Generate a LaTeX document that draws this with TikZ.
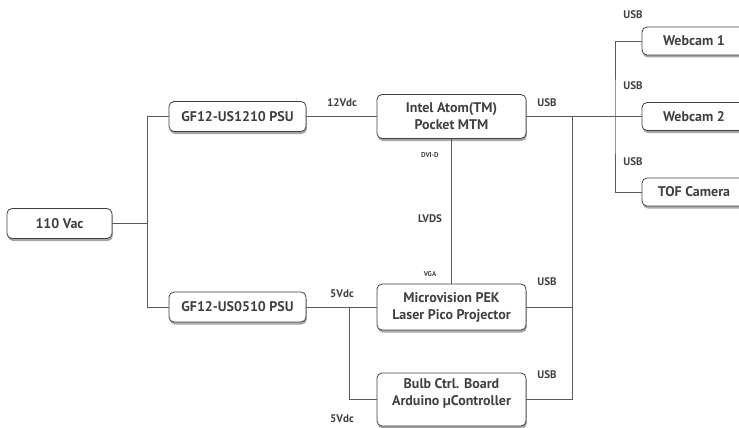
\documentclass[tikz,border=0pt]{standalone}
\usepackage{fontspec}
\setmainfont{PT Sans}
\usepackage{tikz}
\usetikzlibrary{shadows}
\definecolor{ink}{HTML}{404040}
\definecolor{wire}{HTML}{5A5A5A}

\begin{document}
\begin{tikzpicture}[
  x=1pt, y=-1pt,
  box/.style={draw=ink, line width=0.8pt, rounded corners=5pt, fill=white, align=center, text=ink,
    font=\fontsize{14}{17}\selectfont\bfseries, inner sep=0pt, minimum height=#1,
    drop shadow={shadow xshift=0.8pt, shadow yshift=-2.5pt, opacity=0.7, fill=gray}},
  box/.default=30pt,
  wire/.style={draw=wire, line width=0.6pt},
  lab/.style={text=ink, font=\fontsize{11}{12}\selectfont\bfseries},
  tinylab/.style={text=ink, font=\fontsize{7}{8}\selectfont\bfseries}
]
\useasboundingbox (0,0) rectangle (739,428);
% power
\node[box, minimum width=105pt] (vac) at (59.5,223.5) {110 Vac};
\node[box, minimum width=137pt] (psu1) at (237.5,116.5) {GF12-US1210 PSU};
\node[box, minimum width=137pt] (psu2) at (237.5,307) {GF12-US0510 PSU};
% main units
\node[box=44pt, minimum width=149pt] (intel) at (451.5,116.5) {Intel Atom(TM)\\Pocket MTM};
\node[box=46pt, minimum width=149pt] (micro) at (451.5,307) {Microvision PEK\\Laser Pico Projector};
\node[box=53pt, minimum width=149pt] (bulb) at (451.5,399.5) {};
\node[text=ink, align=center, font=\fontsize{14}{17}\selectfont\bfseries] (bulbtxt) at (451.5,393) {Bulb Ctrl. Board\\Arduino µController};
% cameras
\node[box=28pt, minimum width=104pt] (cam1) at (694,41) {Webcam 1};
\node[box=28pt, minimum width=104pt] (cam2) at (694,116.5) {Webcam 2};
\node[box=28pt, minimum width=104pt] (tof) at (694,192) {TOF Camera};
% junctions
\coordinate (split) at (147.5,223.5);
\coordinate (tap5) at (349,307);
\coordinate (hub) at (572,116.5);
\coordinate (camhub) at (615,116.5);
% wiring
\draw[wire] (vac.east) -- (split);
\draw[wire] (psu1.west) -| (split) |- (psu2.west);
\draw[wire] (psu1.east) -- (intel.west);
\draw[wire] (psu2.east) -- (micro.west);
\draw[wire] (tap5) |- (bulb.west);
\draw[wire] (intel.south) -- (micro.north);
\draw[wire] (intel.east) -- (cam2.west);
\draw[wire] (hub) |- (bulb.east);
\draw[wire] (micro.east) -- (micro.east -| hub);
\draw[wire] (cam1.west) -| (camhub) |- (tof.west);
% labels
\node[lab] (l12v) at (342,103) {12Vdc};
\node[lab] (l5va) at (342,294) {5Vdc};
\node[lab] (l5vb) at (342,419) {5Vdc};
\node[lab] (usbi) at (547,103) {USB};
\node[lab] (usbm) at (547,282) {USB};
\node[lab] (usbb) at (547,375) {USB};
\node[lab] (usbc1) at (633,15) {USB};
\node[lab] (usbc2) at (633,86) {USB};
\node[lab] (usbc3) at (633,162) {USB};
\node[tinylab] (dvi) at (430,155) {DVI-D};
\node[lab] (lvds) at (430,219) {LVDS};
\node[tinylab] (vga) at (430,274) {VGA};
\end{tikzpicture}
\end{document}
